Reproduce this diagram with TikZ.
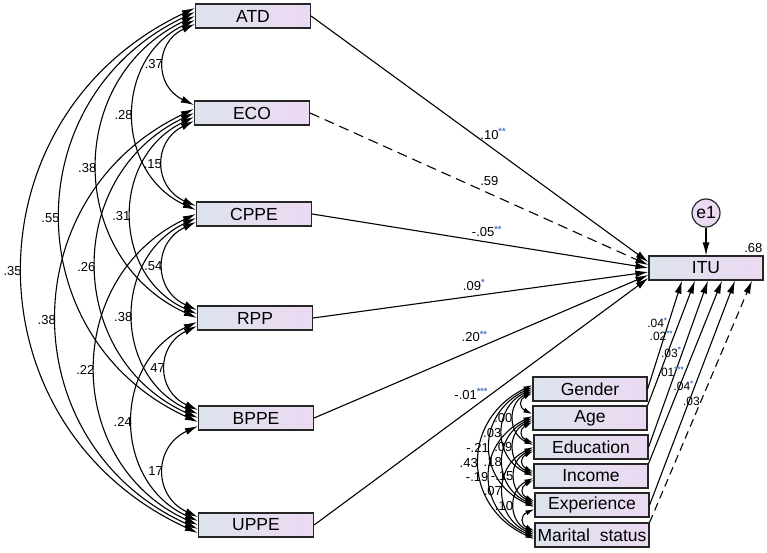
\documentclass[tikz,border=0pt]{standalone}
\usepackage{fontspec}
\setmainfont{Liberation Sans}
\usepackage{xcolor}
\usepackage{tikz}
\usetikzlibrary{arrows.meta}
\usetikzlibrary{positioning}
\definecolor{boxl}{RGB}{221,227,237}
\definecolor{boxr}{RGB}{236,217,242}
\definecolor{starc}{RGB}{70,120,190}
\tikzset{>={Latex[length=13pt,width=7pt]}}
\tikzset{var/.style={draw=black!85,line width=1.2pt,left color=boxl,right color=boxr,minimum width=115pt,minimum height=24pt,inner sep=0pt,font=\fontsize{17.5}{20}\selectfont}}
\tikzset{lbl/.style={font=\fontsize{13}{15}\selectfont,inner sep=1pt}}
\tikzset{clbl/.style={lbl,font=\fontsize{12}{14}\selectfont,inner sep=0.5pt}}
\tikzset{eff/.style={->,line width=1.1pt}}
\tikzset{cov/.style={<->,line width=1.1pt,bend right=65,looseness=#1}}
\tikzset{ccov/.style={>={Latex[length=9pt,width=5pt]},cov=#1}}
\newcommand{\signif}[1]{\textsuperscript{\color{starc}\bfseries #1}}

\begin{document}
\begin{tikzpicture}[x=1pt,y=1pt]
	\useasboundingbox (0,0) rectangle (767,552);
	\node[var] (atd) at (253,536) {ATD};
	\node[var] (eco) at (252,439) {ECO};
	\node[var] (cppe) at (254,338) {CPPE};
	\node[var] (rpp) at (255,234) {RPP};
	\node[var] (bppe) at (256,134) {BPPE};
	\node[var] (uppe) at (256,27) {UPPE};
	\node[var,minimum width=114pt] (itu) at (706,284) {ITU};
	\node[draw=black!85,line width=1.2pt,circle,fill=boxr,minimum size=28pt,inner sep=0pt,font=\fontsize{17.5}{20}\selectfont] (eone) at (706,339) {e1};
	\node[lbl,anchor=south east] (rsq) at ([yshift=2]itu.north east) {.68};
	\node[var,minimum width=114pt] (gender) at (590,163) {Gender};
	\node[var,minimum width=114pt] (age) at (590,134) {Age};
	\node[var,minimum width=114pt] (edu) at (591,105) {Education};
	\node[var,minimum width=114pt] (income) at (591,76) {Income};
	\node[var,minimum width=114pt] (exper) at (592,47) {Experience};
	\node[var,minimum width=114pt] (marital) at (592,17) {Marital\ \ status};
	\draw[eff] (eone) -- (itu);
	\draw[eff] (atd.east) -- node[lbl,pos=.54,above=8pt]{.10\signif{**}} ([yshift=6]itu.west);
	\draw[eff,dash pattern=on 10pt off 6pt] (eco.east) -- node[lbl,pos=.53,above=6pt]{.59} ([yshift=3]itu.west);
	\draw[eff] (cppe.east) -- node[lbl,pos=.52,above=4pt]{-.05\signif{**}} (itu.west);
	\draw[eff] (rpp.east) -- node[lbl,pos=.48,above=4pt]{.09\signif{*}} ([yshift=-4]itu.west);
	\draw[eff] (bppe.east) -- node[lbl,pos=.48,above=6pt]{.20\signif{**}} ([yshift=-7]itu.west);
	\draw[eff] (uppe.east) -- node[lbl,pos=.47,above=8pt]{-.01\signif{***}} ([yshift=-10]itu.west);
	\draw[eff] (gender.east) -- node[clbl,pos=.61,left]{.04\signif{*}} ([xshift=-24]itu.south);
	\draw[eff] (age.north east) -- node[clbl,pos=.56,left]{.02\signif{**}} ([xshift=-11]itu.south);
	\draw[eff] (edu.east) -- node[clbl,pos=.57,left]{.03\signif{*}} ([xshift=2]itu.south);
	\draw[eff] (income.north east) -- node[clbl,pos=.5,left]{.01\signif{***}} ([xshift=16]itu.south);
	\draw[eff] (exper.east) -- node[clbl,pos=.53,left]{.04\signif{*}} ([xshift=29]itu.south);
	\draw[eff,dash pattern=on 8pt off 5pt] (marital.north east) -- node[clbl,pos=.5,left]{.03} ([xshift=46]itu.south);
	\draw[cov=1.39] ([yshift=-8]atd.west) to node[lbl,midway,left]{.37} ([yshift=8]eco.west);
	\draw[cov=1.21] ([yshift=-4]atd.west) to node[lbl,midway,left]{.28} ([yshift=4]cppe.west);
	\draw[cov=1.22] (atd.west) to node[lbl,midway,left]{.38} (rpp.west);
	\draw[cov=1.24] ([yshift=4]atd.west) to node[lbl,midway,left]{.55} ([yshift=-4]bppe.west);
	\draw[cov=1.24] ([yshift=8]atd.west) to node[lbl,midway,left]{.35} ([yshift=-8]uppe.west);
	\draw[cov=1.39] ([yshift=-8]eco.west) to node[lbl,midway,left]{.15} ([yshift=8]cppe.west);
	\draw[cov=1.21] ([yshift=-4]eco.west) to node[lbl,midway,left]{.31} ([yshift=4]rpp.west);
	\draw[cov=1.22] (eco.west) to node[lbl,midway,left]{.26} (bppe.west);
	\draw[cov=1.24] ([yshift=4]eco.west) to node[lbl,midway,left]{.38} ([yshift=-4]uppe.west);
	\draw[cov=1.39] ([yshift=-8]cppe.west) to node[lbl,midway,left]{.54} ([yshift=8]rpp.west);
	\draw[cov=1.21] ([yshift=-4]cppe.west) to node[lbl,midway,left]{.38} ([yshift=4]bppe.west);
	\draw[cov=1.22] (cppe.west) to node[lbl,midway,left]{.22} (uppe.west);
	\draw[cov=1.39] ([yshift=-8]rpp.west) to node[lbl,midway,left]{47} ([yshift=8]bppe.west);
	\draw[cov=1.21] ([yshift=-4]rpp.west) to node[lbl,midway,left]{.24} ([yshift=4]uppe.west);
	\draw[cov=1.39] ([yshift=-8]bppe.west) to node[lbl,midway,left]{17} ([yshift=8]uppe.west);
	\draw[ccov=1.8] ([yshift=-4]gender.west) to ([yshift=4]age.west);
	\draw[ccov=1.32] ([yshift=-2]gender.west) to node[lbl,midway,left]{.00} ([yshift=2]edu.west);
	\draw[ccov=1.3] (gender.west) to node[lbl,midway,left]{.03} (income.west);
	\draw[ccov=1.35] ([yshift=2]gender.west) to node[lbl,midway,left]{-.21} ([yshift=-2]exper.west);
	\draw[ccov=1.32] ([yshift=4]gender.west) to node[lbl,midway,left]{.43} ([yshift=-4]marital.west);
	\draw[ccov=1.8] ([yshift=-4]age.west) to ([yshift=4]edu.west);
	\draw[ccov=1.32] ([yshift=-2]age.west) to node[lbl,midway,left]{.09} ([yshift=2]income.west);
	\draw[ccov=1.3] (age.west) to node[lbl,midway,left]{.18} (exper.west);
	\draw[ccov=1.35] ([yshift=2]age.west) to node[lbl,midway,left]{-.19} ([yshift=-2]marital.west);
	\draw[ccov=1.8] ([yshift=-4]edu.west) to ([yshift=4]income.west);
	\draw[ccov=1.32] ([yshift=-2]edu.west) to node[lbl,midway,left]{-.15} ([yshift=2]exper.west);
	\draw[ccov=1.3] (edu.west) to node[lbl,midway,left]{.07} (marital.west);
	\draw[ccov=1.8] ([yshift=-4]income.west) to ([yshift=4]exper.west);
	\draw[ccov=1.32] ([yshift=-2]income.west) to node[lbl,midway,left]{.10} ([yshift=2]marital.west);
	\draw[ccov=1.8] ([yshift=-4]exper.west) to ([yshift=4]marital.west);
\end{tikzpicture}
\end{document}
